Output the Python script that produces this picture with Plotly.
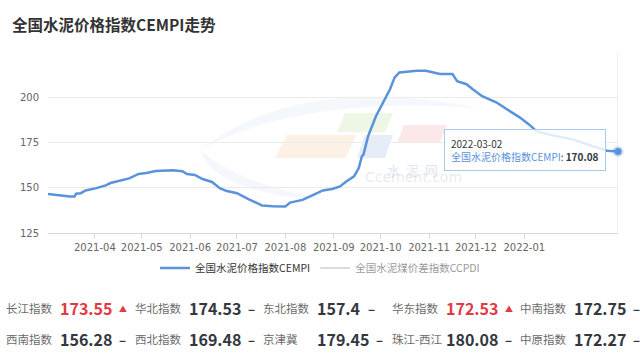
import plotly.graph_objects as go

# ---------------- data ----------------
dates = [
    "2021-03-02", "2021-03-03", "2021-03-09", "2021-03-16", "2021-03-19", "2021-03-20",
    "2021-03-23", "2021-03-26", "2021-04-02", "2021-04-08", "2021-04-11", "2021-04-17",
    "2021-04-23", "2021-04-29", "2021-05-04", "2021-05-10", "2021-05-21", "2021-05-27",
    "2021-05-30", "2021-06-04", "2021-06-09", "2021-06-15", "2021-06-20", "2021-06-24",
    "2021-07-01", "2021-07-08", "2021-07-17", "2021-07-24", "2021-08-01", "2021-08-04",
    "2021-08-12", "2021-08-20", "2021-08-25", "2021-08-31", "2021-09-05", "2021-09-09",
    "2021-09-14", "2021-09-17", "2021-09-19", "2021-09-20", "2021-09-23", "2021-09-28",
    "2021-10-02", "2021-10-07", "2021-10-10", "2021-10-13", "2021-10-24", "2021-10-30",
    "2021-11-08", "2021-11-16", "2021-11-19", "2021-11-25", "2021-11-29", "2021-12-05",
    "2021-12-14", "2021-12-21", "2021-12-29", "2022-01-04", "2022-01-09", "2022-01-17",
    "2022-02-01", "2022-02-12", "2022-02-23", "2022-03-02",
]
cempi = [
    146.6, 146.5, 145.7, 145.2, 145.2, 146.7,
    147.0, 148.5, 149.8, 151.3, 152.6, 154.1,
    155.2, 157.6, 158.1, 159.3, 159.6, 159.1,
    157.6, 157.1, 154.8, 153.2, 149.8, 148.3,
    147.0, 143.9, 140.2, 139.8, 139.6, 141.8,
    143.3, 146.5, 148.5, 149.3, 150.7, 153.5,
    156.3, 160.9, 167.4, 168.3, 178.5, 189.5,
    196.5, 204.4, 211.0, 213.7, 214.6, 214.6,
    212.8, 212.8, 208.9, 207.2, 204.4, 200.6,
    197.2, 193.3, 188.9, 185.0, 181.1, 179.4,
    176.7, 173.5, 170.5, 170.08,
]
series_name = "全国水泥价格指数CEMPI"
other_series_name = "全国水泥煤价差指数CCPDI"

x_tick_vals = ["2021-04-01", "2021-05-01", "2021-06-01", "2021-07-01", "2021-08-01",
               "2021-09-01", "2021-10-01", "2021-11-01", "2021-12-01", "2022-01-01"]
x_tick_text = ["2021-04", "2021-05", "2021-06", "2021-07", "2021-08",
               "2021-09", "2021-10", "2021-11", "2021-12", "2022-01"]
y_tick_vals = [125, 150, 175, 200]

region_names = ["长江指数", "华北指数", "东北指数", "华东指数", "中南指数",
                "西南指数", "西北指数", "京津冀", "珠江-西江", "中原指数"]
region_values = ["173.55", "174.53", "157.4", "172.53", "172.75",
                 "156.28", "169.48", "179.45", "180.08", "172.27"]
region_trend = ["up", "flat", "flat", "up", "flat",
                "flat", "flat", "flat", "flat", "flat"]

# ---------------- style ----------------
BLUE = "#5a92dc"
RED = "#e23a44"
DARK = "#333840"
FONT = "Noto Sans CJK SC"

W, H = 640, 353
L, R, T, B = 48, 22, 52, 120
PW, PH = W - L - R, H - T - B


def px(xp):
    return (xp - L) / PW


def py(yp):
    return (H - B - yp) / PH


fig = go.Figure()

fig.add_trace(go.Scatter(
    x=dates, y=cempi, mode="lines", name=series_name,
    line=dict(color=BLUE, width=2.5), hoverinfo="skip",
))
fig.add_trace(go.Scatter(
    x=[dates[0]], y=[None], mode="lines", name=other_series_name,
    line=dict(color="#bbbbbb", width=2), visible="legendonly",
))
fig.add_trace(go.Scatter(
    x=[dates[-1]], y=[cempi[-1]], mode="markers", showlegend=False,
    marker=dict(size=7, color=BLUE, line=dict(width=4, color="rgba(90,146,220,0.3)")),
    hoverinfo="skip", cliponaxis=False,
))

shapes = []


def poly(pts, color):
    path = "M " + " L ".join(f"{px(a):.4f},{py(b):.4f}" for a, b in pts) + " Z"
    return dict(type="path", xref="paper", yref="paper", path=path,
                fillcolor=color, line=dict(width=0), layer="below")


sw = ("M {:.4f},{:.4f} Q {:.4f},{:.4f} {:.4f},{:.4f} Q {:.4f},{:.4f} {:.4f},{:.4f} Z").format(
    px(200), py(150), px(300), py(72), px(480), py(108),
    px(300), py(95), px(200), py(150))
shapes.append(dict(type="path", xref="paper", yref="paper", path=sw,
                   fillcolor="rgba(210,225,243,0.25)", line=dict(width=0), layer="below"))
sw2 = ("M {:.4f},{:.4f} Q {:.4f},{:.4f} {:.4f},{:.4f} Q {:.4f},{:.4f} {:.4f},{:.4f} Z").format(
    px(200), py(150), px(215), py(195), px(330), py(200),
    px(240), py(185), px(200), py(150))
shapes.append(dict(type="path", xref="paper", yref="paper", path=sw2,
                   fillcolor="rgba(210,225,243,0.25)", line=dict(width=0), layer="below"))
shapes.append(poly([(275, 158), (345, 158), (357, 135), (287, 135)], "rgba(250,205,170,0.3)"))
shapes.append(poly([(337, 132), (385, 132), (393, 113), (345, 113)], "rgba(205,228,180,0.35)"))
shapes.append(poly([(357, 158), (385, 158), (393, 135), (365, 135)], "rgba(180,202,238,0.35)"))
shapes.append(poly([(397, 143), (440, 143), (447, 125), (404, 125)], "rgba(245,180,180,0.3)"))
shapes.append(dict(type="line", xref="x", yref="paper", x0=dates[-1], x1=dates[-1],
                   y0=0, y1=1, line=dict(color="#e0e0e0", width=1), layer="below"))

annotations = []
annotations.append(dict(xref="paper", yref="paper", x=px(412), y=py(169), text="水  泥  网",
                        showarrow=False, font=dict(family=FONT, size=13, color="rgba(160,180,205,0.35)")))
annotations.append(dict(xref="paper", yref="paper", x=px(413), y=py(187), text="Ccement.com",
                        showarrow=False, font=dict(family="DejaVu Sans", size=14, color="rgba(160,180,205,0.28)")))

# tooltip
annotations.append(dict(
    xref="x", yref="y", x=dates[-1], y=cempi[-1], xanchor="right", yanchor="middle",
    xshift=-12, yshift=1, showarrow=False, align="left",
    text=(f"<span style='color:{DARK}'>{dates[-1]}</span><br>"
          f"<span style='color:{BLUE}'>{series_name}</span>: "
          f"<b>{cempi[-1]:.2f}</b>"),
    font=dict(family=FONT, size=10, color=DARK),
    bgcolor="rgba(255,255,255,0.82)", bordercolor="#a9c8ec", borderwidth=1, borderpad=6,
))

# region table
col_w = 128.5
for i, (name, val, tr) in enumerate(zip(region_names, region_values, region_trend)):
    row, col = divmod(i, 5)
    ypix = 308 + row * 31
    xl = 4 + col * col_w
    xv = 58 + col * col_w
    color = RED if tr == "up" else DARK
    annotations.append(dict(xref="paper", yref="paper", x=px(xl), y=py(ypix), xanchor="left",
                            yanchor="middle", showarrow=False, text=name,
                            font=dict(family=FONT, size=11.5, color="#6b6b6b")))
    annotations.append(dict(xref="paper", yref="paper", x=px(xv), y=py(ypix), xanchor="left",
                            yanchor="middle", showarrow=False,
                            text=f"<b>{val}</b>",
                            font=dict(family=FONT, size=16, color=color)))
    mark = "▲" if tr == "up" else "<b>–</b>"
    mcol = RED if tr == "up" else DARK
    xm = xv + (len(val) * 8.4) + 9
    annotations.append(dict(xref="paper", yref="paper", x=px(xm), y=py(ypix), xanchor="left",
                            yanchor="middle", showarrow=False, text=mark,
                            font=dict(family=FONT, size=8 if tr == "up" else 13, color=mcol)))

fig.update_layout(
    width=W, height=H,
    margin=dict(l=L, r=R, t=T, b=B),
    paper_bgcolor="white", plot_bgcolor="white",
    font=dict(family=FONT, color="#666"),
    title=dict(text="<b>全国水泥价格指数CEMPI走势</b>", x=12 / W, xanchor="left",
               y=1 - 26 / H, yanchor="middle", xref="container", yref="container",
               font=dict(family=FONT, size=15.5, color="#333")),
    showlegend=True,
    legend=dict(orientation="h", x=px(320), y=py(268), xanchor="center", yanchor="middle",
                font=dict(family=FONT, size=10.5, color="#333"), itemwidth=30,
                bgcolor="rgba(0,0,0,0)"),
    xaxis=dict(type="date", range=[dates[0], dates[-1]], tickvals=x_tick_vals,
               ticktext=x_tick_text, showgrid=False, showline=True, linecolor="#d8d8d8",
               ticks="outside", ticklen=5, tickcolor="#d8d8d8",
               tickfont=dict(family="DejaVu Sans", size=10, color="#666"), zeroline=False),
    yaxis=dict(range=[125, 225], tickvals=y_tick_vals, showgrid=True, gridcolor="#ebebeb",
               zeroline=False, showline=False, ticks="", ticklabelstandoff=8,
               tickfont=dict(family="DejaVu Sans", size=10, color="#666")),
    shapes=shapes,
    annotations=annotations,
    hovermode=False,
)

fig.write_html("out.html")
